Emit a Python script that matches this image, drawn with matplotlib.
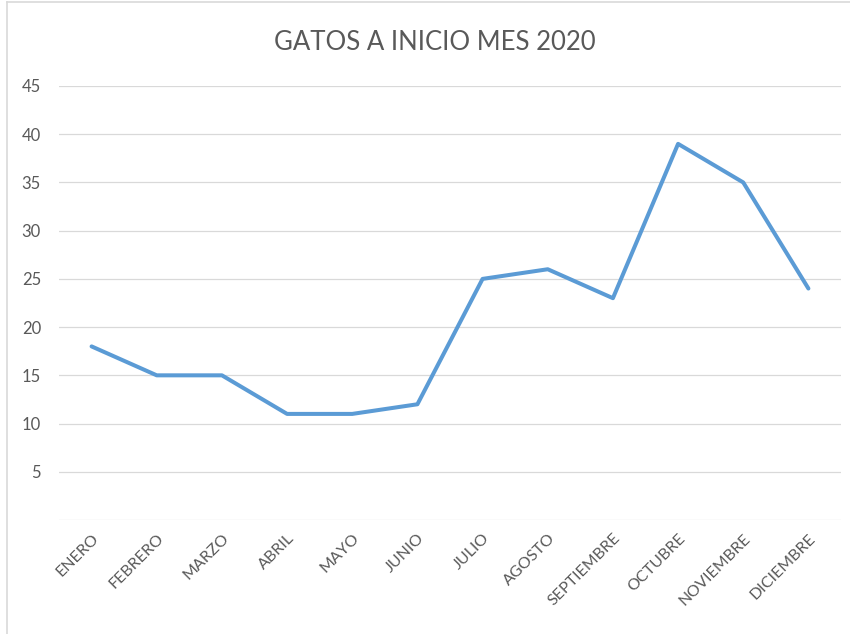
import matplotlib
matplotlib.use("Agg")
import matplotlib.pyplot as plt
from matplotlib.lines import Line2D

months = ["ENERO", "FEBRERO", "MARZO", "ABRIL", "MAYO", "JUNIO", "JULIO",
          "AGOSTO", "SEPTIEMBRE", "OCTUBRE", "NOVIEMBRE", "DICIEMBRE"]
cats = [18, 15, 15, 11, 11, 12, 25, 26, 23, 39, 35, 24]
y_ticks = [5, 10, 15, 20, 25, 30, 35, 40, 45]

plt.rcParams["font.family"] = ["Lato", "DejaVu Sans"]
text_color = "#595959"
grid_color = "#D9D9D9"

W, H = 850, 634
fig = plt.figure(figsize=(W / 100, H / 100), dpi=100)
fig.patch.set_facecolor("white")

ax = fig.add_axes([59 / W, 1 - 520 / H, (841 - 59) / W, (520 - 86) / H])
x = list(range(len(months)))
ax.plot(x, cats, color="#5B9BD5", linewidth=2.9, solid_joinstyle="round",
        solid_capstyle="round", zorder=3)

ax.set_xlim(-0.5, len(months) - 0.5)
ax.set_ylim(0, 45)
ax.set_yticks([0] + y_ticks)
ax.set_yticklabels([""] + [str(v) for v in y_ticks])
ax.set_xticks(x)
ax.set_xticklabels(months, rotation=45, ha="right", rotation_mode="anchor")

ax.grid(axis="y", color=grid_color, linewidth=0.9)
ax.set_axisbelow(True)
for s in ax.spines.values():
    s.set_visible(False)
ax.tick_params(axis="both", length=0, colors=text_color)
ax.tick_params(axis="y", pad=13, labelsize=12)
ax.tick_params(axis="x", pad=8, labelsize=11.5)

fig.text(435 / W, 1 - 42 / H, "GATOS A INICIO MES 2020", ha="center",
         va="center", fontsize=18.5, color=text_color)

# chart frame edges
fig.add_artist(Line2D([7 / W, 7 / W], [0, 1 - 2 / H], transform=fig.transFigure,
                      color=grid_color, linewidth=1.2))
fig.add_artist(Line2D([7 / W, 1], [1 - 2 / H, 1 - 2 / H], transform=fig.transFigure,
                      color=grid_color, linewidth=1.2))

fig.savefig("out.png", dpi=100)
